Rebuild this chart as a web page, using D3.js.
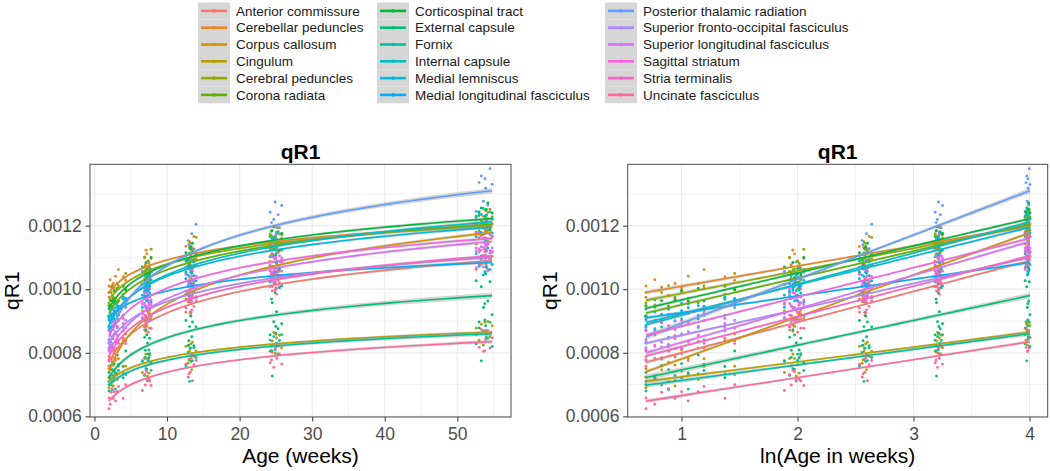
<!DOCTYPE html>
<html><head><meta charset="utf-8">
<script src="https://cdn.jsdelivr.net/npm/d3@7"></script>
<style>body{margin:0;background:#fff;} svg{display:block;font-family:"Liberation Sans",Arial,Helvetica,sans-serif;}</style>
</head><body><svg id="c" width="1050" height="471"></svg>
<script>
// ---------------- data ----------------
const tracts = ["Anterior commissure","Cerebellar peduncles","Corpus callosum","Cingulum","Cerebral peduncles","Corona radiata",
  "Corticospinal tract","External capsule","Fornix","Internal capsule","Medial lemniscus","Medial longitudinal fasciculus",
  "Posterior thalamic radiation","Superior fronto-occipital fasciculus","Superior longitudinal fasciculus","Sagittal striatum","Stria terminalis","Uncinate fasciculus"];

// subject ages (weeks) at each of the five scan time points
const agesT1 = [2.0, 2.0, 2.16, 2.29, 2.43, 2.57, 2.72, 2.88, 3.14, 3.3, 3.95, 4.3];
const agesT2 = [6.6, 6.9, 7.0, 7.1, 7.3, 7.4, 7.6, 7.8, 7.2, 7.5];
const agesT3 = [12.6, 12.9, 13.1, 13.2, 13.4, 13.5, 13.7, 14.0, 13.0, 13.3];
const agesT4 = [24.2, 24.5, 24.7, 24.9, 25.1, 25.3, 25.5, 25.8, 25.0, 24.4];
const agesT5 = [52.6, 53.0, 53.3, 53.6, 53.9, 54.2, 54.5, 54.8, 53.8, 54.0];

// fitted qR1 (x1e-6) at youngest (2.0 wk) and oldest (54.8 wk) age, linear in ln(age)
const fitYoung = [770, 990, 740, 710, 965, 925, 940, 722, 698, 888, 895, 910, 850, 830, 800, 855, 790, 648];
const fitOld   = [1090,1200,1178, 865,1200,1205,1222, 980, 860,1212,1195,1084,1310,1100,1150,1160,1105, 835];

// observed deviation of each subject's value from the fit (x1e-6), per tract
const devT1 = [
 [-12,18,5,-25,30,-8,14,-30,22,-4,10,-15],[20,-15,35,8,-22,12,-5,28,-18,40,6,-10],[-18,10,-30,22,5,-12,28,-6,15,-25,8,18],
 [14,-20,8,30,-10,-26,18,4,-15,24,-8,12],[25,-8,-20,15,32,-14,6,-28,20,10,-5,30],[-10,22,12,-18,6,28,-24,16,-6,34,-14,8],
 [8,-24,20,12,-16,4,30,-10,24,-20,14,-6],[-22,16,-8,28,10,-30,20,-14,36,2,-18,24],[12,-18,26,-6,-24,18,8,-30,14,22,-10,-4],
 [-16,24,6,-20,30,10,-12,18,-26,4,20,-8],[20,-10,-26,14,8,-18,32,-4,12,-22,16,6],[-6,28,14,-22,18,-10,6,24,-16,10,-28,20],
 [30,-20,10,36,-28,16,-8,24,-34,12,40,-14],[-14,12,26,-8,-20,22,4,-26,16,30,-6,10],[10,-26,16,4,24,-14,-20,28,8,-12,20,-4],
 [-20,14,-6,26,12,-24,18,6,-14,22,-10,30],[16,-12,24,-18,-4,30,-22,10,20,-8,14,-26],[-24,10,-14,20,28,-6,12,-20,4,18,-30,8]];
const devT2 = [
 [22,-18,40,-6,12,-32,8,-24,-10,30],[-14,30,8,52,-26,16,-8,20,40,-4],[34,-22,10,-40,24,-8,18,-12,-26,6],[-28,14,-10,26,-44,6,20,-4,12,-36],
 [18,48,-20,6,-12,30,-30,64,-6,22],[-10,26,40,-22,12,-34,4,18,30,-14],[28,-16,6,36,-28,14,-6,44,-20,10],[-40,30,-12,52,8,-28,20,-60,34,-16],
 [16,-30,26,-10,-50,12,34,-20,-12,22],[-24,8,32,-14,20,-36,14,40,6,-20],[12,-28,20,6,-18,34,-40,10,26,-8],[-30,18,-6,28,44,-16,8,-22,-14,30],
 [40,-34,22,-12,56,6,-26,14,-20,28],[-16,24,-34,10,30,-8,18,-26,8,-34],[26,-12,14,-30,-4,36,-20,8,-26,18],[-8,32,-22,18,6,-36,24,-14,14,-18],
 [20,-26,8,30,-16,12,-40,22,-10,34],[-34,14,-20,26,-6,40,-12,-28,20,-6]];
const devT3 = [
 [-20,30,12,-36,6,24,-10,18,14,-28],[28,-12,40,-24,16,4,54,-18,-30,20],[-14,22,-30,36,10,-6,26,-22,8,40],[24,-30,8,16,-52,34,-12,4,-20,30],
 [10,-24,32,46,-8,20,-30,60,-14,36],[-26,14,30,-12,38,-20,6,22,10,-32],[18,-8,-30,26,12,42,-18,4,-26,30],[36,-44,14,58,-20,26,-56,8,-30,46],
 [-30,12,-80,24,4,-16,30,-8,34,-18],[20,-26,8,34,-14,16,-34,26,-6,40],[-12,30,-26,10,22,-40,16,4,30,-14],[26,-18,12,-34,40,6,-22,14,-26,8],
 [-36,44,20,-14,60,-26,10,84,30,-50],[14,-22,30,-8,-30,20,6,-16,-12,26],[-10,28,-18,36,4,-26,22,-4,18,-32],[22,-14,34,-28,10,26,-20,6,-8,38],
 [-24,16,-6,28,-36,8,30,-12,22,-4],[12,-30,24,-16,36,-44,6,18,-20,28]];
const devT4 = [
 [26,-18,8,34,-30,12,-8,20,-12,36],[-12,36,-26,16,44,-6,22,-30,10,-22],[18,-34,28,-10,6,40,-20,12,-26,32],[-22,10,36,-30,18,-8,26,-14,30,-6],
 [32,-16,20,-36,8,48,-24,14,-20,26],[-8,24,-32,12,38,-18,6,30,16,-28],[14,-28,42,6,-16,24,-34,18,-8,30],[-60,40,-20,70,10,-44,84,-30,-36,52],
 [20,-94,30,-12,8,-26,16,34,40,-14],[-30,16,-6,28,-22,40,10,-14,22,-30],[24,-12,34,-28,6,18,-38,12,-16,40],[-18,30,8,-24,42,-6,20,-34,10,-14],
 [46,-40,20,74,-22,32,-10,58,-30,12],[-26,14,32,-12,-34,22,6,18,28,-8],[12,-30,20,36,-14,6,-26,28,-18,40],[-14,26,-30,10,34,-22,16,-6,8,-32],
 [30,-20,6,-34,18,24,-12,8,-26,16],[-20,12,-36,24,-8,32,4,-28,30,-12]];
const devT5 = [
 [-24,30,-10,18,36,-32,8,14,30,-14],[20,-36,10,30,-14,42,-24,6,-8,34],[-30,18,36,-16,8,-26,24,44,-14,28],[14,-24,26,-40,6,34,-14,20,32,-6],
 [-18,40,-28,12,30,-8,52,-34,22,-16],[28,-20,14,-30,44,6,-12,22,-26,10],[-14,24,36,-26,10,50,-36,18,-20,30],[50,-80,30,-36,70,-16,44,-60,-24,90],
 [-30,20,-84,10,26,-14,36,-40,44,-10],[18,-34,26,44,-10,-24,32,8,-16,22],[-26,40,-14,16,-40,28,6,-18,10,-34],[30,-10,22,-38,14,46,-22,-6,-28,38],
 [-60,30,50,-30,10,-44,70,20,40,-90],[24,-18,36,-28,8,-36,14,30,-10,20],[-16,32,-24,12,40,-8,22,-34,28,-14],[20,-30,10,34,-20,26,-38,4,-12,40],
 [-34,16,-8,28,-24,40,-12,14,22,-20],[24,-16,40,-30,8,36,-20,12,-28,30]];

const yTicks = [0.0006, 0.0008, 0.0010, 0.0012];
const yMinor = [0.0007, 0.0009, 0.0011, 0.0013];
const ageTicks = [0, 10, 20, 30, 40, 50];
const ageMinor = [5, 15, 25, 35, 45, 55];
const lnTicks = [1, 2, 3, 4];
const lnMinor = [1.5, 2.5, 3.5];

// ---------------- colours (ggplot hue palette, polarLUV -> sRGB) ----------------
function hclLuv(h, c, l) {
  const hr = h * Math.PI / 180, U = c * Math.cos(hr), V = c * Math.sin(hr);
  const Xn = 95.047, Yn = 100, Zn = 108.883;
  const Y = l > 7.999592 ? Yn * Math.pow((l + 16) / 116, 3) : Yn * l / 903.3;
  const den = Xn + 15 * Yn + 3 * Zn, un = 4 * Xn / den, vn = 9 * Yn / den;
  const u = U / (13 * l) + un, v = V / (13 * l) + vn;
  const X = 9 * Y * u / (4 * v), Z = -X / 3 - 5 * Y + 3 * Y / v;
  const x = X / 100, y = Y / 100, z = Z / 100;
  const lin = [3.240479 * x - 1.537150 * y - 0.498535 * z,
              -0.969256 * x + 1.875992 * y + 0.041556 * z,
               0.055648 * x - 0.204043 * y + 1.057311 * z];
  const g = lin.map(t => { t = t <= 0.0031308 ? 12.92 * t : 1.055 * Math.pow(t, 1 / 2.4) - 0.055; return Math.round(255 * Math.max(0, Math.min(1, t))); });
  return d3.rgb(g[0], g[1], g[2]).formatHex();
}
const colors = tracts.map((d, i) => hclLuv(15 + i * (360 / tracts.length), 100, 65));

// ---------------- derived points & fits ----------------
const U6 = 1e-6;
const lnLo = Math.log(2.0), lnHi = Math.log(54.8);
const fitVal = (i, la) => (fitYoung[i] + (fitOld[i] - fitYoung[i]) * (la - lnLo) / (lnHi - lnLo)) * U6;
const timepoints = [[agesT1, devT1], [agesT2, devT2], [agesT3, devT3], [agesT4, devT4], [agesT5, devT5]];
const points = [];
timepoints.forEach(([ages, dev]) => {
  ages.forEach((a, j) => {
    tracts.forEach((t, i) => {
      points.push({ i, age: a, la: Math.log(a), v: fitVal(i, Math.log(a)) + dev[i][j] * U6 });
    });
  });
});
// standard error band per tract from residuals (lm on ln(age))
const allLa = timepoints.flatMap(([ages]) => ages.map(Math.log));
const nObs = allLa.length, mLa = d3.mean(allLa), Sxx = d3.sum(allLa, x => (x - mLa) ** 2);
const sRes = tracts.map((t, i) => {
  const r = timepoints.flatMap(([ages, dev]) => dev[i]);
  return Math.sqrt(d3.sum(r, x => x * x) / (nObs - 2)) * U6;
});
const seAt = (i, la) => 0.9 * sRes[i] * Math.sqrt(1 / nObs + (la - mLa) ** 2 / Sxx);

// ---------------- drawing ----------------
const svg = d3.select("#c");
const yTop = 164.3, yBot = 417;
const y = d3.scaleLinear().domain([0.000598, 0.001393]).range([yBot, yTop]);
const panels = [
  { x0: 90, x1: 511, domain: [-0.62, 57.4], key: "age", ticks: ageTicks, minor: ageMinor, xlab: "Age (weeks)", ylabX: 19 },
  { x0: 627.7, x1: 1047.7, domain: [0.536, 4.157], key: "la", ticks: lnTicks, minor: lnMinor, xlab: "ln(Age in weeks)", ylabX: 557 }
];
const sampleLa = d3.range(80).map(k => lnLo + (lnHi - lnLo) * k / 79);

panels.forEach(p => {
  const x = d3.scaleLinear().domain(p.domain).range([p.x0, p.x1]);
  const g = svg.append("g");
  const cx = (p.x0 + p.x1) / 2;
  // grid
  const grid = g.append("g");
  grid.selectAll(".ym").data(yMinor).join("line").attr("x1", p.x0).attr("x2", p.x1).attr("y1", d => y(d)).attr("y2", d => y(d)).attr("stroke", "#EBEBEB").attr("stroke-width", 0.6);
  grid.selectAll(".xm").data(p.minor).join("line").attr("y1", yTop).attr("y2", yBot).attr("x1", d => x(d)).attr("x2", d => x(d)).attr("stroke", "#EBEBEB").attr("stroke-width", 0.6);
  grid.selectAll(".yM").data(yTicks).join("line").attr("x1", p.x0).attr("x2", p.x1).attr("y1", d => y(d)).attr("y2", d => y(d)).attr("stroke", "#EBEBEB").attr("stroke-width", 1.2);
  grid.selectAll(".xM").data(p.ticks).join("line").attr("y1", yTop).attr("y2", yBot).attr("x1", d => x(d)).attr("x2", d => x(d)).attr("stroke", "#EBEBEB").attr("stroke-width", 1.2);

  // points
  g.append("g").selectAll("circle").data(points).join("circle")
    .attr("cx", d => x(d[p.key])).attr("cy", d => y(d.v)).attr("r", 1.45)
    .attr("fill", d => colors[d.i]);

  // smooths
  const xs = la => p.key === "age" ? x(Math.exp(la)) : x(la);
  const sm = g.append("g");
  tracts.forEach((t, i) => {
    const area = d3.area().x(la => xs(la)).y0(la => y(fitVal(i, la) - seAt(i, la))).y1(la => y(fitVal(i, la) + seAt(i, la)));
    sm.append("path").attr("d", area(sampleLa)).attr("fill", "#999999").attr("fill-opacity", 0.4);
    const line = d3.line().x(la => xs(la)).y(la => y(fitVal(i, la)));
    sm.append("path").attr("d", line(sampleLa)).attr("fill", "none").attr("stroke", colors[i]).attr("stroke-width", 1.6);
  });

  // border
  g.append("rect").attr("x", p.x0).attr("y", yTop).attr("width", p.x1 - p.x0).attr("height", yBot - yTop)
    .attr("fill", "none").attr("stroke", "#4a4a4a").attr("stroke-width", 1);

  // axes
  const ax = g.append("g").attr("transform", `translate(${p.x0},0)`)
    .call(d3.axisLeft(y).tickValues(yTicks).tickFormat(d3.format(".4f")).tickSize(4.5).tickPadding(3.8));
  const bx = g.append("g").attr("transform", `translate(0,${yBot})`)
    .call(d3.axisBottom(x).tickValues(p.ticks).tickFormat(d3.format("d")).tickSize(4.5).tickPadding(6.2));
  [ax, bx].forEach(a => {
    a.select(".domain").remove();
    a.selectAll(".tick line").attr("stroke", "#333333").attr("stroke-width", 1);
    a.selectAll(".tick text").attr("fill", "#4D4D4D").style("font-size", "17.5px").style("font-family", "'Liberation Sans',Arial,sans-serif");
  });

  // titles
  g.append("text").attr("x", cx).attr("y", 158.5).attr("text-anchor", "middle")
    .style("font-size", "21px").style("font-weight", "bold").text("qR1");
  g.append("text").attr("x", cx).attr("y", 463).attr("text-anchor", "middle")
    .style("font-size", "21px").text(p.xlab);
  g.append("text").attr("transform", `translate(${p.ylabX},${(yTop + yBot) / 2}) rotate(-90)`).attr("text-anchor", "middle")
    .style("font-size", "21px").text("qR1");
});

// legend
const legCols = [198, 377, 605], keyW = 32, keyH = 16.8, legTop = 2.5;
const leg = svg.append("g");
tracts.forEach((t, i) => {
  const col = Math.floor(i / 6), row = i % 6;
  const kx = legCols[col], ky = legTop + row * keyH;
  leg.append("rect").attr("x", kx).attr("y", ky).attr("width", keyW).attr("height", keyH).attr("fill", "#D6D6D6");
  leg.append("line").attr("x1", kx + 3).attr("x2", kx + keyW - 3).attr("y1", ky + keyH / 2).attr("y2", ky + keyH / 2)
    .attr("stroke", colors[i]).attr("stroke-width", 2.6);
  leg.append("circle").attr("cx", kx + keyW / 2).attr("cy", ky + keyH / 2).attr("r", 1.8).attr("fill", colors[i]);
  leg.append("text").attr("x", kx + keyW + 6).attr("y", ky + keyH / 2).attr("dy", "0.35em")
    .style("font-size", "13.5px").attr("fill", "#1a1a1a").text(t);
});
</script></body></html>
